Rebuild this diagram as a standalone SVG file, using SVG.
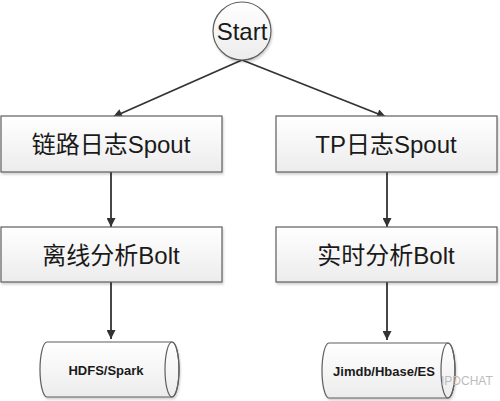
<svg xmlns="http://www.w3.org/2000/svg" width="500" height="401" viewBox="0 0 500 401">
<defs>
<linearGradient id="g" x1="0" y1="0" x2="0" y2="1">
<stop offset="0" stop-color="#ffffff"/>
<stop offset="1" stop-color="#ececec"/>
</linearGradient>
<marker id="ah" viewBox="0 0 10 10" refX="10" refY="5" markerWidth="5.5" markerHeight="5" markerUnits="strokeWidth" orient="auto">
<path d="M0,0 L10,5 L0,10 z" fill="#333"/>
</marker>
<filter id="sh" x="-5%" y="-5%" width="115%" height="125%">
<feDropShadow dx="1" dy="2" stdDeviation="1.2" flood-color="#000" flood-opacity="0.18"/>
</filter>
</defs>
<style>
.box{fill:url(#g);stroke:#5e5e5e;stroke-width:1.2;filter:url(#sh)}
.lbl{font-family:"Liberation Sans","Noto Sans CJK SC",sans-serif;font-size:24px;fill:#1a1a1a;text-anchor:middle;dominant-baseline:central}
.db{font-family:"Liberation Sans","Noto Sans CJK SC",sans-serif;font-size:13px;font-weight:bold;fill:#1a1a1a;text-anchor:middle;dominant-baseline:central}
.c{fill:none;stroke:#333;stroke-width:1.8;marker-end:url(#ah)}
</style>
<rect width="500" height="401" fill="#fff"/>
<g id="connectors">
<line class="c" x1="242" y1="60" x2="113" y2="117"/>
<line class="c" x1="242" y1="60" x2="386" y2="117"/>
<line class="c" x1="111" y1="172" x2="111" y2="227"/>
<line class="c" x1="387" y1="172" x2="387" y2="227"/>
<line class="c" x1="111" y1="282" x2="111" y2="339"/>
<line class="c" x1="387" y1="282" x2="387" y2="340"/>
</g>
<g id="start">
<circle cx="242" cy="31" r="29" class="box"/>
<text class="lbl" x="242" y="31">Start</text>
</g>
<g id="spout1">
<rect class="box" x="1" y="116" width="221" height="56"/>
<text class="lbl" x="111" y="144">链路日志Spout</text>
</g>
<g id="spout2">
<rect class="box" x="276" y="116" width="221" height="56"/>
<text class="lbl" x="386" y="144">TP日志Spout</text>
</g>
<g id="bolt1">
<rect class="box" x="1" y="227" width="221" height="55"/>
<text class="lbl" x="111" y="255">离线分析Bolt</text>
</g>
<g id="bolt2">
<rect class="box" x="276" y="227" width="221" height="55"/>
<text class="lbl" x="386" y="255">实时分析Bolt</text>
</g>
<g id="hdfs">
<path class="box" d="M47,342 L172,342 A7,27.5 0 0 1 172,397 L47,397 A7,27.5 0 0 1 47,342 z"/>
<ellipse cx="172" cy="369.5" rx="7" ry="27.5" fill="none" stroke="#5e5e5e" stroke-width="1.2"/>
<text class="db" x="106" y="370">HDFS/Spark</text>
</g>
<g id="jimdb">
<path class="box" d="M329,343 L448,343 A7,27.5 0 0 1 448,398 L329,398 A7,27.5 0 0 1 329,343 z"/>
<ellipse cx="448" cy="370.5" rx="7" ry="27.5" fill="none" stroke="#5e5e5e" stroke-width="1.2"/>
<text class="db" x="384" y="371">Jimdb/Hbase/ES</text>
</g>
<text x="441" y="385" font-family="Liberation Sans, sans-serif" font-size="12" fill="#bbbbbb">IPDCHAT</text>
</svg>
